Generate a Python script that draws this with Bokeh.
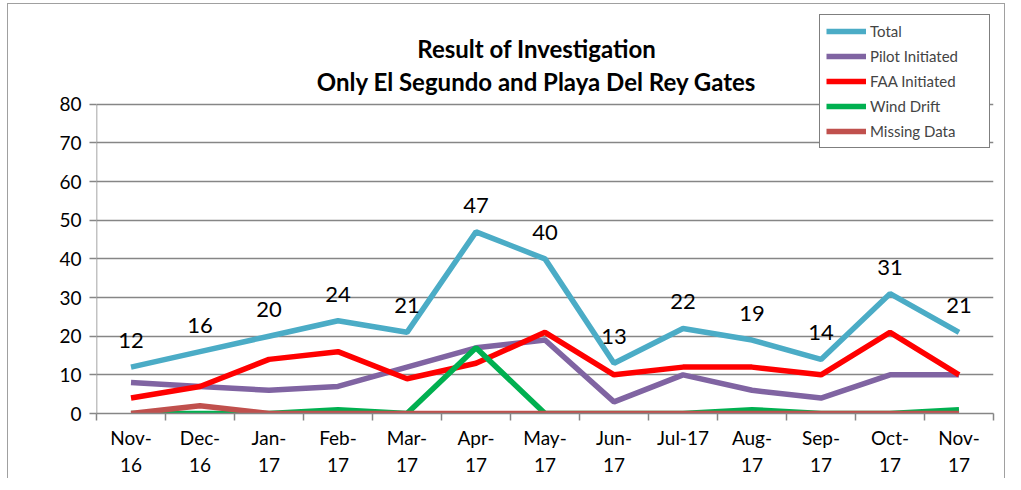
from bokeh.plotting import figure
from bokeh.models import FixedTicker, Legend, LegendItem, ColumnDataSource, LabelSet, Label, Range1d
from bokeh.core.properties import value
from bokeh.embed import file_html
from bokeh.resources import INLINE

months = ["Nov-\n16", "Dec-\n16", "Jan-\n17", "Feb-\n17", "Mar-\n17", "Apr-\n17", "May-\n17",
          "Jun-\n17", "Jul-17", "Aug-\n17", "Sep-\n17", "Oct-\n17", "Nov-\n17"]
total = [12, 16, 20, 24, 21, 47, 40, 13, 22, 19, 14, 31, 21]
pilot = [8, 7, 6, 7, 12, 17, 19, 3, 10, 6, 4, 10, 10]
faa = [4, 7, 14, 16, 9, 13, 21, 10, 12, 12, 10, 21, 10]
wind = [0, 0, 0, 1, 0, 17, 0, 0, 0, 1, 0, 0, 1]
missing = [0, 2, 0, 0, 0, 0, 0, 0, 0, 0, 0, 0, 0]
y_ticks = [0, 10, 20, 30, 40, 50, 60, 70, 80]
title_lines = ["Result of Investigation", "Only El Segundo and Playa Del Rey Gates"]

FONT = "Lato"
xs = list(range(len(months)))

p = figure(width=998, height=475, output_backend="svg", toolbar_location=None,
           x_range=Range1d(-0.5, len(months) - 0.5), y_range=Range1d(0, 104),
           min_border_left=88, min_border_right=13, min_border_top=7, min_border_bottom=60)
p.styles = {"border-left": "1.5px solid #a0a0a0", "border-top": "1.5px solid #a0a0a0",
            "border-right": "1.5px solid #a0a0a0", "margin-left": "7px", "margin-top": "3px"}
p.outline_line_color = None
p.background_fill_color = "white"

series = [("Total", total, "#4BACC6"), ("Pilot Initiated", pilot, "#8064A2"),
          ("FAA Initiated", faa, "#FF0000"), ("Wind Drift", wind, "#00B050"),
          ("Missing Data", missing, "#C0504D")]
items = []
for name, vals, col in series:
    r = p.line(xs, vals, line_color=col, line_width=5.5)
    items.append(LegendItem(label=name, renderers=[r]))

src = ColumnDataSource(dict(x=xs, y=total, t=[str(v) for v in total]))
p.add_layout(LabelSet(x="x", y="y", text="t", source=src, text_align="center",
                      text_baseline="bottom", y_offset=19, text_font=value(FONT),
                      text_font_size="22px", text_color="black"))

# title
for t, yy in zip(title_lines, [94.5, 85.9]):
    p.add_layout(Label(x=5.88, y=yy, text=t, text_align="center", text_baseline="middle",
                       text_font=FONT, text_font_size="24px", text_font_style="bold",
                       text_color="black"))

# y axis line only up to 80
p.segment(x0=[-0.5], y0=[y_ticks[0]], x1=[-0.5], y1=[y_ticks[-1]], line_color="#868686",
          line_width=1.5)

p.xaxis.ticker = FixedTicker(ticks=xs, minor_ticks=[i - 0.5 for i in range(len(months) + 1)])
p.xaxis.major_label_overrides = {i: m for i, m in enumerate(months)}
p.xaxis.major_tick_line_color = None
p.xaxis.minor_tick_in = 0
p.xaxis.minor_tick_out = 7
p.xaxis.minor_tick_line_color = "#868686"
p.xaxis.minor_tick_line_width = 1.5
p.xaxis.axis_line_color = "#868686"
p.xaxis.axis_line_width = 1.5
p.xaxis.major_label_text_font = FONT
p.xaxis.major_label_text_font_size = "19px"
p.xaxis.major_label_text_color = "black"
p.xaxis.major_label_standoff = 5

p.yaxis.ticker = FixedTicker(ticks=y_ticks)
p.yaxis.minor_tick_line_color = None
p.yaxis.major_tick_in = 0
p.yaxis.major_tick_out = 7
p.yaxis.major_tick_line_color = "#868686"
p.yaxis.major_tick_line_width = 1.5
p.yaxis.axis_line_color = None
p.yaxis.major_label_text_font = FONT
p.yaxis.major_label_text_font_size = "19px"
p.yaxis.major_label_text_color = "black"
p.yaxis.major_label_standoff = 8

p.xgrid.grid_line_color = None
p.ygrid.ticker = FixedTicker(ticks=y_ticks)
p.ygrid.grid_line_color = "#868686"
p.ygrid.grid_line_width = 1.5

legend = Legend(items=items, location=(723, 265), label_text_font=FONT,
                label_text_font_size="15px", glyph_width=40, glyph_height=20,
                label_height=20, label_width=113, label_standoff=4, spacing=5,
                padding=6, margin=0,
                border_line_color="black", border_line_width=1.5,
                background_fill_alpha=1)
p.add_layout(legend)

open("out.html", "w").write(file_html(p, INLINE))
